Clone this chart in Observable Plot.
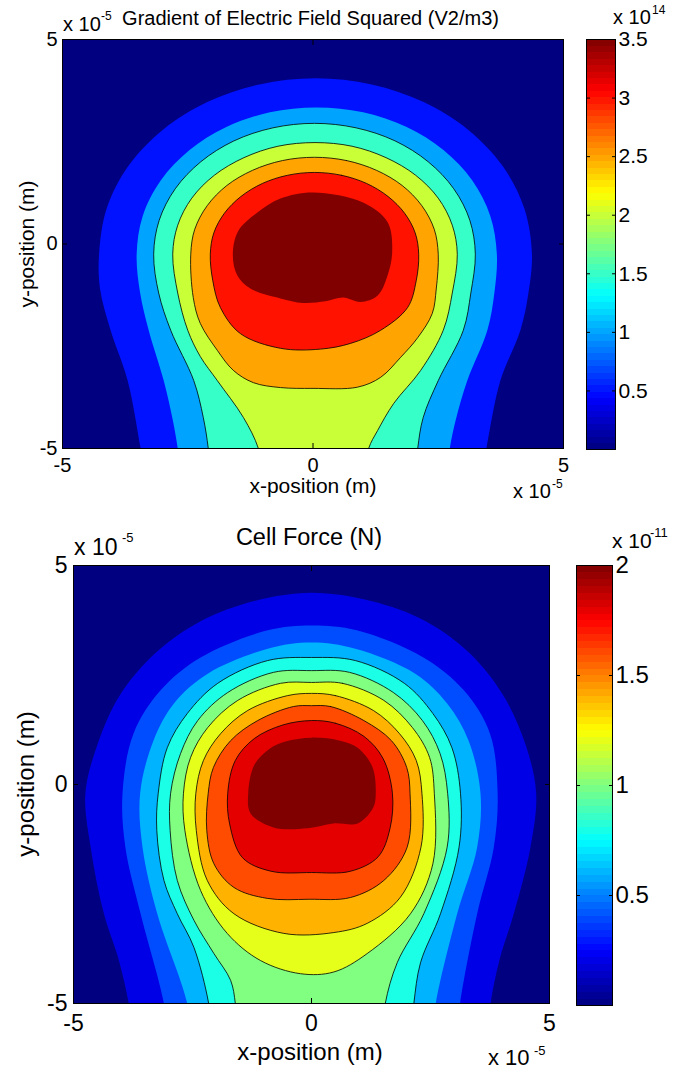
<!DOCTYPE html>
<html>
<head>
<meta charset="utf-8">
<script src="https://cdn.jsdelivr.net/npm/d3@7"></script>
<script src="https://cdn.jsdelivr.net/npm/@observablehq/plot@0.6"></script>
<style>
  html, body { margin: 0; padding: 0; background: #ffffff; }
  #fig { position: relative; width: 679px; height: 1072px; overflow: hidden; background: #ffffff;
         font-family: "Liberation Sans", Arial, Helvetica, sans-serif; color: #000; }
  #fig .t { position: absolute; line-height: 1; white-space: nowrap; }
  #fig svg { position: absolute; }
</style>
</head>
<body>
<div id="fig"></div>
<script>
// ================= DATA (units of 1e-5 m) =================
const axisTicks = [-5, 0, 5];

// ---- Panel 1: gradient of E^2 (x 1e14 V2/m3) ----
const gradTitle = "Gradient of Electric Field Squared (V2/m3)";
const gradLevels = [0.5, 1.0, 1.5, 2.0, 2.5, 3.0, 3.5];
const gradClosed = [false, false, false, false, true, true, true];
const gradLined = [1.5, 2.0, 2.5, 3.0];
const gradBarTicks = [0.5, 1, 1.5, 2, 2.5, 3, 3.5];
const gradBarMax = 3.5;

const gradC05 = [[-3.32,-5.8],[-3.44,-5.0],[-3.70,-3.34],[-4.04,-2.11],[-4.25,-1.10],[-4.27,-0.25],[-4.12,0.86],[-3.69,1.90],[-3.00,2.79],[-2.11,3.47],[-1.07,3.90],[0.05,4.05],[1.17,3.90],[2.21,3.47],[3.10,2.79],[3.79,1.90],[4.22,0.86],[4.37,-0.25],[4.30,-1.20],[4.14,-2.11],[3.74,-3.34],[3.46,-5.0],[3.34,-5.8]];
const gradC10 = [[-2.62,-5.8],[-2.70,-5.0],[-2.80,-4.30],[-2.98,-3.34],[-3.28,-2.11],[-3.45,-1.20],[-3.52,-0.25],[-3.40,0.68],[-3.04,1.55],[-2.47,2.29],[-1.73,2.86],[-0.86,3.22],[0.07,3.34],[1.00,3.22],[1.87,2.86],[2.61,2.29],[3.18,1.55],[3.54,0.68],[3.67,-0.25],[3.62,-1.20],[3.48,-2.11],[3.08,-3.34],[2.85,-4.30],[2.73,-5.0],[2.65,-5.8]];
const gradC15 = [[-2.03,-5.8],[-2.09,-5.0],[-2.19,-4.24],[-2.38,-3.34],[-2.84,-2.11],[-3.08,-1.20],[-3.18,-0.25],[-3.07,0.58],[-2.75,1.35],[-2.24,2.01],[-1.58,2.52],[-0.80,2.84],[0.03,2.95],[0.86,2.84],[1.64,2.52],[2.30,2.01],[2.81,1.35],[3.13,0.58],[3.24,-0.25],[3.15,-1.20],[3.00,-2.11],[2.50,-3.34],[2.20,-4.24],[2.09,-5.0],[2.03,-5.8]];
const gradC20 = [[-0.97,-5.8],[-1.09,-5.0],[-1.39,-4.24],[-1.91,-3.34],[-2.25,-2.75],[-2.50,-2.11],[-2.70,-1.20],[-2.80,-0.25],[-2.70,0.46],[-2.42,1.12],[-1.97,1.68],[-1.38,2.11],[-0.70,2.39],[0.04,2.48],[0.78,2.39],[1.46,2.11],[2.05,1.68],[2.50,1.12],[2.78,0.46],[2.88,-0.25],[2.78,-1.20],[2.60,-2.11],[2.15,-3.09],[1.61,-3.90],[1.29,-4.56],[1.11,-5.0],[0.99,-5.8]];
const gradC25 = [[0.03,2.12],[0.67,2.04],[1.27,1.80],[1.78,1.43],[2.17,0.94],[2.42,0.36],[2.50,-0.25],[2.46,-1.10],[2.38,-1.70],[2.09,-2.29],[1.75,-2.77],[1.35,-3.26],[0.89,-3.50],[0.00,-3.53],[-0.65,-3.51],[-1.19,-3.39],[-1.59,-3.09],[-1.91,-2.60],[-2.25,-1.94],[-2.39,-1.31],[-2.44,-0.25],[-2.36,0.36],[-2.11,0.94],[-1.72,1.43],[-1.21,1.80],[-0.61,2.04]];
const gradC30 = [[0.03,1.75],[0.57,1.68],[1.07,1.48],[1.50,1.16],[1.83,0.75],[2.04,0.27],[2.11,-0.25],[2.06,-0.90],[1.89,-1.55],[1.35,-2.11],[0.75,-2.43],[0.15,-2.57],[-0.65,-2.55],[-1.45,-2.19],[-1.85,-1.55],[-2.00,-0.90],[-2.05,-0.25],[-1.98,0.27],[-1.77,0.75],[-1.44,1.16],[-1.01,1.48],[-0.51,1.68]];
const gradC35 = [[0.00,1.26],[1.01,1.01],[1.49,0.53],[1.58,-0.21],[1.48,-0.80],[1.29,-1.26],[0.95,-1.42],[0.60,-1.31],[0.25,-1.40],[-0.20,-1.44],[-0.65,-1.33],[-1.25,-1.09],[-1.51,-0.77],[-1.60,-0.28],[-1.50,0.30],[-1.11,0.77],[-0.65,1.11]];

// ---- Panel 2: cell force (x 1e-11 N) ----
const forceTitle = "Cell Force (N)";
const forceLevels = [0.2, 0.4, 0.6, 0.8, 1.0, 1.2, 1.4, 1.6, 1.8, 2.0];
const forceClosed = [false, false, false, false, false, true, true, true, true, true];
const forceLined = [0.8, 1.0, 1.2, 1.4, 1.6, 1.8];
const forceBarTicks = [0.5, 1, 1.5, 2];
const forceBarMax = 2;

const forceC02 = [[-3.75,-5.8],[-3.84,-5.0],[-4.05,-4.0],[-4.36,-2.95],[-4.64,-1.43],[-4.75,-0.2],[-4.50,0.90],[-4.03,2.03],[-3.29,2.99],[-2.33,3.73],[-1.20,4.19],[0.00,4.38],[1.25,4.19],[2.40,3.73],[3.33,2.99],[4.03,2.03],[4.50,0.90],[4.72,-0.2],[4.60,-1.43],[4.25,-2.95],[3.95,-4.0],[3.76,-5.0],[3.68,-5.8]];
const forceC04 = [[-3.02,-5.8],[-3.10,-5.0],[-3.59,-2.95],[-3.91,-1.43],[-3.97,-0.2],[-3.74,1.16],[-3.17,2.15],[-2.33,2.90],[-0.92,3.52],[0.00,3.63],[0.95,3.52],[2.35,2.90],[3.20,2.15],[3.75,1.16],[3.91,-0.2],[3.83,-1.43],[3.48,-2.95],[3.12,-5.0],[3.04,-5.8]];
const forceC06 = [[-2.53,-5.8],[-2.61,-5.0],[-3.24,-2.95],[-3.55,-1.43],[-3.60,-0.2],[-3.32,1.00],[-2.89,1.85],[-2.18,2.53],[-0.92,3.10],[0.00,3.24],[0.92,3.10],[2.18,2.53],[2.85,1.85],[3.30,1.00],[3.55,-0.2],[3.48,-1.43],[3.06,-2.95],[2.61,-5.0],[2.53,-5.8]];
const forceC08 = [[-2.08,-5.8],[-2.16,-5.0],[-2.47,-3.72],[-2.82,-2.95],[-3.10,-2.19],[-3.25,-1.05],[-3.22,-0.2],[-3.03,0.84],[-2.61,1.62],[-1.97,2.31],[-0.92,2.83],[0.00,2.90],[0.92,2.83],[1.95,2.31],[2.55,1.62],[2.95,0.84],[3.13,-0.2],[3.10,-1.43],[2.71,-2.95],[2.29,-4.07],[2.15,-5.0],[2.08,-5.8]];
const forceC10 = [[-1.55,-5.8],[-1.60,-5.0],[-1.70,-4.47],[-2.05,-3.86],[-2.47,-3.10],[-2.82,-2.19],[-2.97,-1.05],[-2.96,-0.2],[-2.75,0.71],[-2.39,1.46],[-1.76,2.10],[-0.80,2.56],[0.00,2.60],[0.80,2.56],[1.72,2.10],[2.33,1.46],[2.70,0.71],[2.86,-0.2],[2.85,-1.43],[2.36,-2.95],[1.80,-4.07],[1.55,-5.0],[1.48,-5.8]];
const forceC12 = [[0.00,2.33],[0.65,2.31],[1.52,1.92],[2.12,1.30],[2.48,0.62],[2.58,-0.2],[2.55,-1.81],[2.08,-2.95],[1.17,-3.86],[0.47,-4.28],[-0.23,-4.32],[-1.07,-4.02],[-1.77,-3.40],[-2.33,-2.42],[-2.66,-1.05],[-2.69,-0.2],[-2.54,0.62],[-2.18,1.30],[-1.55,1.92],[-0.65,2.31]];
const forceC14 = [[0.00,2.08],[0.50,2.03],[1.30,1.69],[1.85,1.16],[2.20,0.55],[2.32,-0.2],[2.30,-1.43],[1.87,-2.57],[1.17,-3.17],[0.47,-3.38],[-0.58,-3.40],[-1.63,-2.95],[-2.19,-2.19],[-2.42,-1.05],[-2.43,-0.2],[-2.27,0.55],[-1.91,1.16],[-1.34,1.69],[-0.50,2.03]];
const forceC16 = [[0.00,1.80],[0.40,1.78],[1.10,1.46],[1.68,1.00],[2.00,0.39],[2.07,-0.2],[2.01,-1.43],[1.52,-2.19],[0.82,-2.58],[-0.05,-2.62],[-0.93,-2.60],[-1.63,-2.35],[-2.05,-1.81],[-2.20,-1.05],[-2.17,-0.2],[-2.06,0.39],[-1.70,1.00],[-1.13,1.46],[-0.38,1.78]];
const forceC18 = [[0.00,1.46],[0.50,1.40],[1.10,1.10],[1.50,0.60],[1.70,-0.2],[1.65,-1.00],[1.40,-1.65],[0.82,-1.98],[0.00,-2.01],[-0.85,-1.98],[-1.45,-1.67],[-1.72,-0.90],[-1.76,-0.2],[-1.60,0.55],[-1.20,1.05],[-0.60,1.36]];
const forceC20 = [[0.00,1.07],[0.60,1.00],[0.97,0.84],[1.28,0.40],[1.35,-0.2],[1.30,-0.52],[0.97,-0.89],[0.46,-0.89],[-0.08,-1.00],[-0.80,-0.98],[-1.28,-0.66],[-1.33,-0.2],[-1.20,0.45],[-0.90,0.80],[-0.55,0.98]];

const gradContours = [gradC05, gradC10, gradC15, gradC20, gradC25, gradC30, gradC35];
const forceContours = [forceC02, forceC04, forceC06, forceC08, forceC10, forceC12, forceC14, forceC16, forceC18, forceC20];

// ================= RENDERING =================
const FONT = '"Liberation Sans", Arial, Helvetica, sans-serif';
const fig = document.getElementById("fig");
const fmt = d => String(d);

function jet(t) {
  const c = v => Math.max(0, Math.min(1, v));
  const r = c(1.5 - Math.abs(4 * t - 3));
  const g = c(1.5 - Math.abs(4 * t - 2));
  const b = c(1.5 - Math.abs(4 * t - 1));
  return d3.rgb(Math.round(r * 255), Math.round(g * 255), Math.round(b * 255)).formatHex();
}

function baseStyle(size) {
  return {fontFamily: FONT, fontSize: size + "px", color: "#000", background: "transparent", maxWidth: "none", overflow: "visible"};
}

function contourPanel(cfg) {
  const color = {type: "linear", domain: [0, cfg.max], interpolate: jet};
  const marks = [Plot.frame({fill: jet(0)})];
  cfg.contours.forEach((pts, i) => {
    marks.push(Plot.line(pts, {
      x: d => d[0], y: d => d[1], fill: () => cfg.levels[i], stroke: "none",
      curve: cfg.closed[i] ? "catmull-rom-closed" : "catmull-rom", clip: true
    }));
  });
  cfg.contours.forEach((pts, i) => {
    if (!cfg.lined.includes(cfg.levels[i])) return;
    marks.push(Plot.line(pts, {
      x: d => d[0], y: d => d[1], stroke: "#000", strokeWidth: 0.8,
      curve: cfg.closed[i] ? "catmull-rom-closed" : "catmull-rom", clip: true
    }));
  });
  marks.push(
    Plot.axisX({anchor: "bottom", ticks: axisTicks, tickSize: 0, tickPadding: cfg.padX, tickFormat: fmt, fontSize: cfg.tick, label: null}),
    Plot.axisY({anchor: "left", ticks: axisTicks, tickSize: 0, tickPadding: cfg.padY, tickFormat: fmt, fontSize: cfg.tick, label: null}),
    Plot.axisX({anchor: "bottom", ticks: axisTicks, tickSize: 5, dy: -5, fill: "none", label: null}),
    Plot.axisX({anchor: "top", ticks: axisTicks, tickSize: 5, dy: 5, fill: "none", label: null}),
    Plot.axisY({anchor: "left", ticks: axisTicks, tickSize: 5, dx: 5, fill: "none", label: null}),
    Plot.axisY({anchor: "right", ticks: axisTicks, tickSize: 5, dx: -5, fill: "none", label: null}),
    Plot.frame({stroke: "#000", strokeWidth: 1})
  );
  return Plot.plot({
    width: cfg.width, height: cfg.height,
    marginLeft: cfg.ml, marginRight: cfg.mr, marginTop: cfg.mt, marginBottom: cfg.mb,
    x: {domain: [-5, 5]}, y: {domain: [-5, 5]},
    color, style: baseStyle(cfg.tick), marks
  });
}

function colorbar(cfg) {
  return Plot.plot({
    width: cfg.w + 70, height: cfg.h + 20,
    marginLeft: 0, marginRight: 70, marginTop: 10, marginBottom: 10,
    x: {domain: [0, 1], axis: null},
    y: {domain: [0, cfg.max]},
    color: {type: "linear", domain: [0, cfg.max], interpolate: jet},
    style: baseStyle(cfg.font),
    marks: [
      Plot.raster({x1: 0, x2: 1, y1: 0, y2: cfg.max, fill: (x, y) => y, width: 1, height: 64, imageRendering: "pixelated"}),
      Plot.axisY({anchor: "right", ticks: cfg.ticks, tickSize: 0, tickPadding: 3, tickFormat: fmt, fontSize: cfg.font, label: null}),
      Plot.axisY({anchor: "left", ticks: cfg.ticks, tickSize: 4, dx: 4, fill: "none", label: null}),
      Plot.axisY({anchor: "right", ticks: cfg.ticks, tickSize: 4, dx: -4, fill: "none", label: null}),
      Plot.frame({stroke: "#000", strokeWidth: 1})
    ]
  });
}

function put(node, left, top) {
  node.style.left = left + "px";
  node.style.top = top + "px";
  fig.appendChild(node);
}
function text(str, x, baseline, size, align) {
  const el = document.createElement("div");
  el.className = "t";
  el.textContent = str;
  el.style.fontSize = size + "px";
  el.style.left = x + "px";
  el.style.top = (baseline - 0.8465 * size) + "px";
  if (align === "middle") el.style.transform = "translateX(-50%)";
  if (align === "end") el.style.transform = "translateX(-100%)";
  fig.appendChild(el);
}
function vtext(str, cx, cy, size) {
  const el = document.createElement("div");
  el.className = "t";
  el.textContent = str;
  el.style.fontSize = size + "px";
  el.style.left = cx + "px";
  el.style.top = cy + "px";
  el.style.transform = "translate(-50%,-50%) rotate(-90deg)";
  fig.appendChild(el);
}

// ---- panel 1 ----
put(contourPanel({
  contours: gradContours, levels: gradLevels, closed: gradClosed, lined: gradLined, max: gradBarMax,
  width: 580, height: 500, ml: 62, mr: 17, mt: 39, mb: 52, tick: 20, padX: 9, padY: 5
}), 0, 0);
put(colorbar({w: 29, h: 410, max: gradBarMax, ticks: gradBarTicks, font: 21}), 586, 29);
text(gradTitle, 310.5, 24.5, 20, "middle");
text("x 10", 63, 31, 20); text("-5", 101, 20, 12);
text("x 10", 513, 498, 20); text("-5", 552, 488, 12);
text("x 10", 613, 24, 20); text("14", 652, 14, 12);
text("x-position (m)", 313, 493, 21, "middle");
vtext("y-position (m)", 26, 243.5, 21);

// ---- panel 2 ----
put(contourPanel({
  contours: forceContours, levels: forceLevels, closed: forceClosed, lined: forceLined, max: forceBarMax,
  width: 570, height: 520, ml: 73, mr: 21, mt: 45, mb: 37, tick: 23, padX: 11, padY: 6
}), 0, 520);
put(colorbar({w: 36, h: 440, max: forceBarMax, ticks: forceBarTicks, font: 24}), 576, 555);
text(forceTitle, 309, 546, 23.5, "middle");
text("x 10", 74, 555, 23); text("-5", 122, 542, 13);
text("x 10", 488, 1066, 22); text("-5", 534, 1055, 13);
text("x 10", 612, 548, 21); text("-11", 650, 537, 13);
text("x-position (m)", 310, 1060, 24, "middle");
vtext("y-position (m)", 26, 784, 24);
</script>
</body>
</html>
